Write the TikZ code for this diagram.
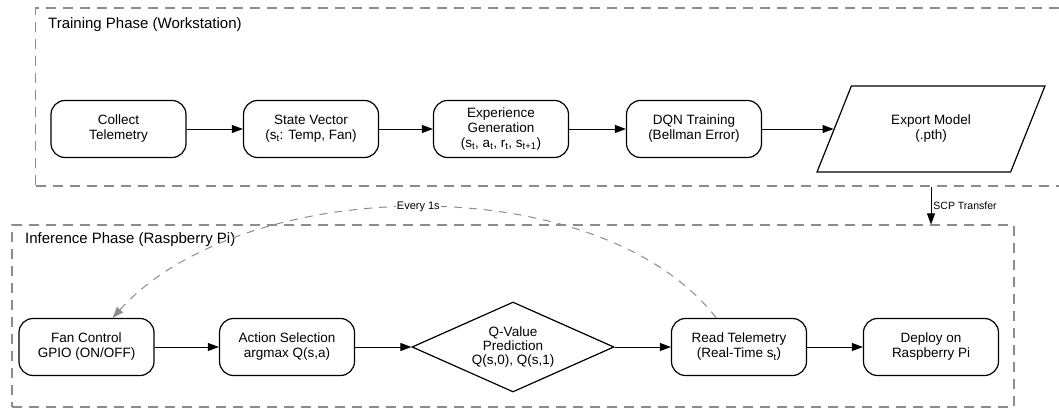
\documentclass[tikz,border=0pt]{standalone}
\usepackage{fontspec}
\setmainfont{Liberation Sans}
\usetikzlibrary{%
  arrows.meta,
  shapes.geometric
}
\definecolor{phasegray}{HTML}{8C8C8C}

\begin{document}
\begin{tikzpicture}[x=1pt, y=1pt,
    phasebox/.style={draw=phasegray, line width=1.1pt, dash pattern=on 10pt off 7pt, inner sep=0pt},
    phasetitle/.style={anchor=west, inner sep=0pt, font=\fontsize{15}{17}\selectfont},
    procbox/.style={draw, line width=1.2pt, rounded corners=14pt, minimum width=135pt, minimum height=57pt, align=center, inner sep=2pt, font=\fontsize{13.5}{15}\selectfont},
    flow/.style={-{Triangle[length=11pt,width=8pt]}, line width=0.9pt},
    loopline/.style={-{Triangle[length=11pt,width=8pt]}, draw=phasegray, line width=1pt, dash pattern=on 8pt off 7pt}]

    \useasboundingbox (0,0) rectangle (1059,409);
    \clip (0,0) rectangle (1059,409);

    %Phases
    \node (training) at (552.75,312) [phasebox, minimum width=1034.5pt, minimum height=178pt] {};
    \node (inference) at (513,93) [phasebox, minimum width=1002pt, minimum height=182pt] {};
    \node (traintitle) at (48,384) [phasetitle] {Training Phase (Workstation)};
    \node (inftitle) at (25,169) [phasetitle] {Inference Phase (Raspberry Pi)};

    %Training row
    \node (collect) at (118.5,280) [procbox] {Collect\\Telemetry};
    \node (state) at (311,280) [procbox] {State Vector\\(s\textsubscript{t}: Temp, Fan)};
    \node (exper) at (501,280) [procbox] {Experience\\Generation\\(s\textsubscript{t}, a\textsubscript{t}, r\textsubscript{t}, s\textsubscript{t+1})};
    \node (dqn) at (694,280) [procbox] {DQN Training\\(Bellman Error)};
    \node (export) at (931,280) [draw, line width=1.2pt, shape=trapezium, trapezium left angle=61.5, trapezium right angle=118.5, trapezium stretches=true, minimum width=228pt, minimum height=86pt, align=center, font=\fontsize{13.5}{15}\selectfont] {Export Model\\(.pth)};

    \draw[flow] (collect) -- (state);
    \draw[flow] (state) -- (exper);
    \draw[flow] (exper) -- (dqn);
    \draw[flow] (dqn) -- (export);

    %Inference row
    \node (fan) at (86.5,62) [procbox] {Fan Control\\GPIO (ON/OFF)};
    \node (action) at (287,62) [procbox] {Action Selection\\argmax Q(s,a)};
    \node (qval) at (513,62) [draw, line width=1.2pt, shape=diamond, aspect=2.25, minimum width=202pt, minimum height=90pt, inner sep=1pt, align=center, font=\fontsize{13.5}{14}\selectfont] {Q-Value\\Prediction\\Q(s,0), Q(s,1)};
    \node (read) at (739,62) [procbox] {Read Telemetry\\(Real-Time s\textsubscript{t})};
    \node (deploy) at (931,62) [procbox] {Deploy on\\Raspberry Pi};

    \draw[flow] (fan) -- (action);
    \draw[flow] (action) -- (qval);
    \draw[flow] (qval) -- (read);
    \draw[flow] (read) -- (deploy);

    %Transfer and loop
    \draw[flow] (training.south -| export) -- node[right, inner sep=2pt, font=\fontsize{10.5}{12}\selectfont] {SCP Transfer} (inference.north -| export);
    \draw[loopline] (read) to[out=128, in=48, looseness=0.82] node[midway, fill=white, inner sep=1pt, font=\fontsize{11}{13}\selectfont] {Every 1s} (fan);

\end{tikzpicture}
\end{document}
